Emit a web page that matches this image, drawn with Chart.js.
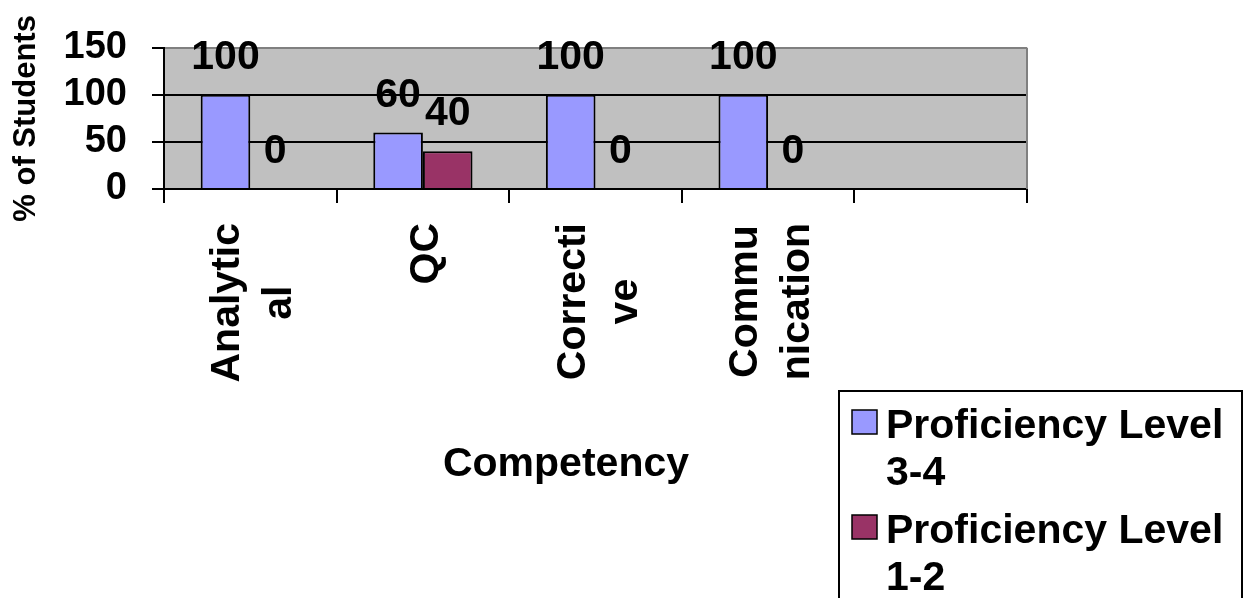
<!DOCTYPE html>
<html>
<head>
<meta charset="utf-8">
<title>Competency</title>
<script src="https://cdn.jsdelivr.net/npm/chart.js@4.4.0/dist/chart.umd.min.js"></script>
<style>
    body { margin: 0; background: #fff; }
    #wrap { width: 1247px; height: 598px; position: relative; }
</style>
</head>
<body>
<div id="wrap"><canvas id="CompetencyChart"></canvas></div>
<script>
// categories, and the way the original axis wraps them
const categories = ['Analytical', 'QC', 'Corrective', 'Communication', ''];
const categoryLines = [['Analytic', 'al'], ['QC'], ['Correcti', 've'], ['Commu', 'nication'], []];

// % of students per proficiency band (5th category is empty)
const level34 = [100, 60, 100, 100, null];
const level12 = [0, 40, 0, 0, null];

const seriesNames = ['Proficiency Level 3-4', 'Proficiency Level 1-2'];
const seriesLegendLines = [['Proficiency Level', '3-4'], ['Proficiency Level', '1-2']];
const seriesColors = ['#9999FF', '#993366'];

const yTicks = [0, 50, 100, 150];
const yTitle = '% of Students';
const xTitle = 'Competency';

const FONT = '"Liberation Sans", Arial, sans-serif';
Chart.defaults.font.family = FONT;
Chart.defaults.color = '#000';

// grey plot area + grey right edge
const plotBackground = {
    id: 'plotBackground',
    beforeDraw(chart) {
        const { ctx, chartArea: a } = chart;
        ctx.save();
        ctx.fillStyle = '#C0C0C0';
        ctx.fillRect(a.left, a.top, a.right - a.left, a.bottom - a.top);
        ctx.restore();
    },
    afterDatasetsDraw(chart) {
        const { ctx, chartArea: a } = chart;
        ctx.save();
        ctx.strokeStyle = '#808080';
        ctx.lineWidth = 2;
        ctx.beginPath();
        ctx.moveTo(a.right, a.top);
        ctx.lineTo(a.right, a.bottom);
        ctx.stroke();
        ctx.restore();
    }
};

// value above every bar
const valueLabels = {
    id: 'valueLabels',
    afterDatasetsDraw(chart) {
        const ctx = chart.ctx;
        ctx.save();
        ctx.font = 'bold 41px ' + FONT;
        ctx.fillStyle = '#000';
        ctx.textAlign = 'center';
        ctx.textBaseline = 'alphabetic';
        chart.data.datasets.forEach((ds, i) => {
            chart.getDatasetMeta(i).data.forEach((bar, j) => {
                if (ds.data[j] === null) return;
                ctx.fillText(String(ds.data[j]), bar.x, bar.y - 26);
            });
        });
        ctx.restore();
    }
};

// rotated, wrapped category names (lines centred on each other)
const categoryLabels = {
    id: 'categoryLabels',
    afterDraw(chart) {
        const ctx = chart.ctx;
        const xScale = chart.scales.x;
        const top = chart.chartArea.bottom + 34;
        const gap = 52;
        ctx.save();
        ctx.font = 'bold 41px ' + FONT;
        ctx.fillStyle = '#000';
        ctx.textAlign = 'center';
        ctx.textBaseline = 'alphabetic';
        categoryLines.forEach((lines, i) => {
            if (!lines.length) return;
            const cx = xScale.getPixelForValue(i);
            const longest = Math.max(...lines.map(l => ctx.measureText(l).width));
            const cy = top + longest / 2;
            lines.forEach((line, k) => {
                const bx = cx + (k - (lines.length - 1) / 2) * gap + 15;
                ctx.save();
                ctx.translate(bx, cy);
                ctx.rotate(-Math.PI / 2);
                ctx.fillText(line, 0, 0);
                ctx.restore();
            });
        });
        ctx.restore();
    }
};

// x title and the boxed legend at bottom right
const legendBox = {
    id: 'legendBox',
    afterDraw(chart) {
        const ctx = chart.ctx;
        ctx.save();
        ctx.font = 'bold 41px ' + FONT;
        ctx.fillStyle = '#000';
        ctx.textAlign = 'center';
        ctx.textBaseline = 'alphabetic';
        ctx.fillText(xTitle, 566, 476);

        ctx.lineWidth = 2;
        ctx.strokeStyle = '#000';
        ctx.strokeRect(839, 391, 403, 240);

        ctx.textAlign = 'left';
        chart.data.datasets.forEach((ds, i) => {
            const y0 = 410 + i * 105;
            ctx.fillStyle = ds.backgroundColor;
            ctx.fillRect(852, y0, 25, 24);
            ctx.lineWidth = 1.5;
            ctx.strokeRect(852, y0, 25, 24);
            ctx.fillStyle = '#000';
            seriesLegendLines[i].forEach((line, k) => {
                ctx.fillText(line, 886, y0 + 28 + k * 47);
            });
        });
        ctx.restore();
    }
};

const ctx = document.getElementById('CompetencyChart').getContext('2d');
const myChart = new Chart(ctx, {
    type: 'bar',
    data: {
        labels: categories,
        datasets: [
            {
                label: seriesNames[0],
                data: level34,
                backgroundColor: seriesColors[0],
                borderColor: '#000',
                borderWidth: 2
            },
            {
                label: seriesNames[1],
                data: level12,
                backgroundColor: seriesColors[1],
                borderColor: '#000',
                borderWidth: 2
            }
        ]
    },
    options: {
        responsive: true,
        maintainAspectRatio: false,
        animation: false,
        layout: {
            padding: { top: 41, right: 220, bottom: 0, left: 0 }
        },
        datasets: {
            bar: { categoryPercentage: 0.575, barPercentage: 1 }
        },
        plugins: {
            legend: { display: false },
            tooltip: { enabled: false }
        },
        scales: {
            x: {
                ticks: { display: false },
                grid: {
                    drawOnChartArea: false,
                    tickLength: 14,
                    color: '#000',
                    lineWidth: 2
                },
                border: { color: '#000', width: 2 },
                afterFit: scale => { scale.height = 409; }
            },
            y: {
                min: 0,
                max: 150,
                afterBuildTicks: scale => { scale.ticks = yTicks.map(v => ({ value: v })); },
                ticks: {
                    font: { size: 38, weight: 'bold' },
                    color: '#000',
                    padding: 25,
                    autoSkip: false
                },
                grid: {
                    color: c => (c.tick && c.tick.value === 150) ? '#808080' : '#000',
                    tickColor: '#000',
                    lineWidth: 2,
                    tickLength: 12
                },
                border: { color: '#000', width: 2 },
                title: {
                    display: true,
                    text: yTitle,
                    font: { size: 31, weight: 'bold' },
                    color: '#000',
                    padding: { top: 8, bottom: 0 }
                },
                afterFit: scale => { scale.width = 164; }
            }
        }
    },
    plugins: [plotBackground, valueLabels, categoryLabels, legendBox]
});
</script>
</body>
</html>
